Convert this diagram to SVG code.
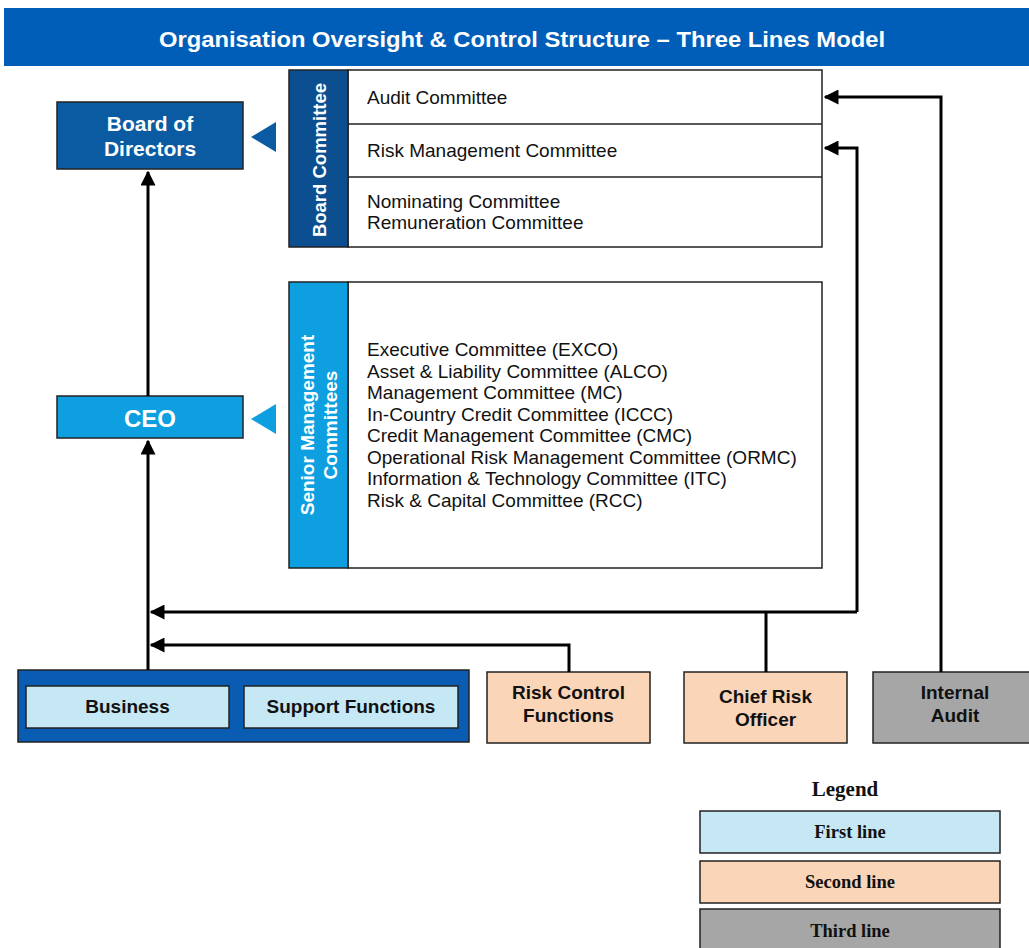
<svg xmlns="http://www.w3.org/2000/svg" width="1029" height="948" viewBox="0 0 1029 948">
<style>
.sans{font-family:"Liberation Sans",Arial,sans-serif}
.b{font-weight:bold}
.wt{fill:#fff}
.item{font-family:"Liberation Sans",Arial,sans-serif;font-size:19px;fill:#111}
.bot{font-family:"Liberation Sans",Arial,sans-serif;font-size:19px;font-weight:bold;fill:#111;text-anchor:middle}
.leg{font-family:"Liberation Serif","Times New Roman",serif;font-weight:bold;fill:#111;text-anchor:middle}
.ln{fill:none;stroke:#000;stroke-width:3}
.box{stroke:#222;stroke-width:1.5}
</style>
<defs>
<marker id="ah" viewBox="0 0 10 10" refX="9" refY="5" markerWidth="5" markerHeight="5" orient="auto" markerUnits="strokeWidth">
<path d="M0,0 L10,5 L0,10 z" fill="#000"/>
</marker>
</defs>
<rect width="1029" height="948" fill="#fff"/>
<g id="title">
<rect x="4" y="8" width="1025" height="58" fill="#005eb8"/>
<text x="522" y="47" class="sans b wt" font-size="22" text-anchor="middle" textLength="726" lengthAdjust="spacingAndGlyphs">Organisation Oversight &amp; Control Structure – Three Lines Model</text>
</g>
<g id="board-of-directors">
<rect x="57" y="102" width="186" height="67" fill="#0b5ba3" class="box"/>
<text x="150" y="131" class="sans b wt" font-size="21" text-anchor="middle">Board of</text>
<text x="150" y="156" class="sans b wt" font-size="21" text-anchor="middle">Directors</text>
<path d="M276,122 L276,152 L251,137 z" fill="#0b5ba3"/>
</g>
<g id="board-committee">
<rect x="348" y="70" width="474" height="177" fill="#fff" class="box"/>
<line x1="348" y1="124" x2="822" y2="124" stroke="#222" stroke-width="1.5"/>
<line x1="348" y1="177" x2="822" y2="177" stroke="#222" stroke-width="1.5"/>
<rect x="289" y="70" width="59" height="177" fill="#0b4f91" class="box"/>
<text transform="translate(326,160) rotate(-90)" class="sans b wt" font-size="18.5" text-anchor="middle">Board Committee</text>
<text x="367" y="104" class="item">Audit Committee</text>
<text x="367" y="157" class="item">Risk Management Committee</text>
<text x="367" y="208" class="item">Nominating Committee</text>
<text x="367" y="229" class="item">Remuneration Committee</text>
</g>
<g id="senior-management">
<rect x="348" y="282" width="474" height="286" fill="#fff" class="box"/>
<rect x="289" y="282" width="59" height="286" fill="#0d9fdf" class="box"/>
<text transform="translate(314,425) rotate(-90)" class="sans b wt" font-size="19" text-anchor="middle">Senior Management</text>
<text transform="translate(337,425) rotate(-90)" class="sans b wt" font-size="19" text-anchor="middle">Committees</text>
<text x="367" y="356" class="item">Executive Committee (EXCO)</text>
<text x="367" y="377.5" class="item">Asset &amp; Liability Committee (ALCO)</text>
<text x="367" y="399" class="item">Management Committee (MC)</text>
<text x="367" y="420.5" class="item">In-Country Credit Committee (ICCC)</text>
<text x="367" y="442" class="item">Credit Management Committee (CMC)</text>
<text x="367" y="463.5" class="item">Operational Risk Management Committee (ORMC)</text>
<text x="367" y="485" class="item">Information &amp; Technology Committee (ITC)</text>
<text x="367" y="506.5" class="item">Risk &amp; Capital Committee (RCC)</text>
</g>
<g id="ceo">
<rect x="57" y="396" width="186" height="42" fill="#0d9fdf" class="box"/>
<text x="150" y="427" class="sans b wt" font-size="24" text-anchor="middle">CEO</text>
<path d="M276,404 L276,434 L251,419 z" fill="#0d9fdf"/>
</g>
<g id="first-line">
<rect x="18" y="670" width="451" height="72" fill="#0a5cb2" class="box"/>
<rect x="26" y="686" width="203" height="42" fill="#c5e8f4" class="box"/>
<text x="127.5" y="713" class="bot">Business</text>
<rect x="244" y="686" width="214" height="42" fill="#c5e8f4" class="box"/>
<text x="351" y="713" class="bot">Support Functions</text>
</g>
<g id="risk-control-functions">
<rect x="487" y="672" width="163" height="71" fill="#fad5b8" class="box"/>
<text x="568.5" y="699" class="bot">Risk Control</text>
<text x="568.5" y="722" class="bot">Functions</text>
</g>
<g id="chief-risk-officer">
<rect x="684" y="672" width="163" height="71" fill="#fad5b8" class="box"/>
<text x="765.5" y="703" class="bot">Chief Risk</text>
<text x="765.5" y="726" class="bot">Officer</text>
</g>
<g id="internal-audit">
<rect x="873" y="672" width="160" height="71" fill="#a6a6a6" class="box"/>
<text x="955" y="699" class="bot">Internal</text>
<text x="955" y="722" class="bot">Audit</text>
</g>
<g id="connectors">
<line x1="148" y1="396" x2="148" y2="172" class="ln" marker-end="url(#ah)"/>
<line x1="148" y1="670" x2="148" y2="441" class="ln" marker-end="url(#ah)"/>
<polyline points="857,612 857,148 825,148" class="ln" marker-end="url(#ah)"/>
<polyline points="857,612 151,612" class="ln" marker-end="url(#ah)"/>
<line x1="766" y1="672" x2="766" y2="612" class="ln"/>
<polyline points="569,672 569,645 151,645" class="ln" marker-end="url(#ah)"/>
<polyline points="941,672 941,97 825,97" class="ln" marker-end="url(#ah)"/>
</g>
<g id="legend">
<text x="845" y="796" class="leg" font-size="21">Legend</text>
<rect x="700" y="811" width="300" height="42" fill="#c5e8f4" class="box"/>
<text x="850" y="838" class="leg" font-size="18.5">First line</text>
<rect x="700" y="861" width="300" height="42" fill="#fad5b8" class="box"/>
<text x="850" y="888" class="leg" font-size="18.5">Second line</text>
<rect x="700" y="909" width="300" height="45" fill="#a6a6a6" class="box"/>
<text x="850" y="937" class="leg" font-size="18.5">Third line</text>
</g>
</svg>
